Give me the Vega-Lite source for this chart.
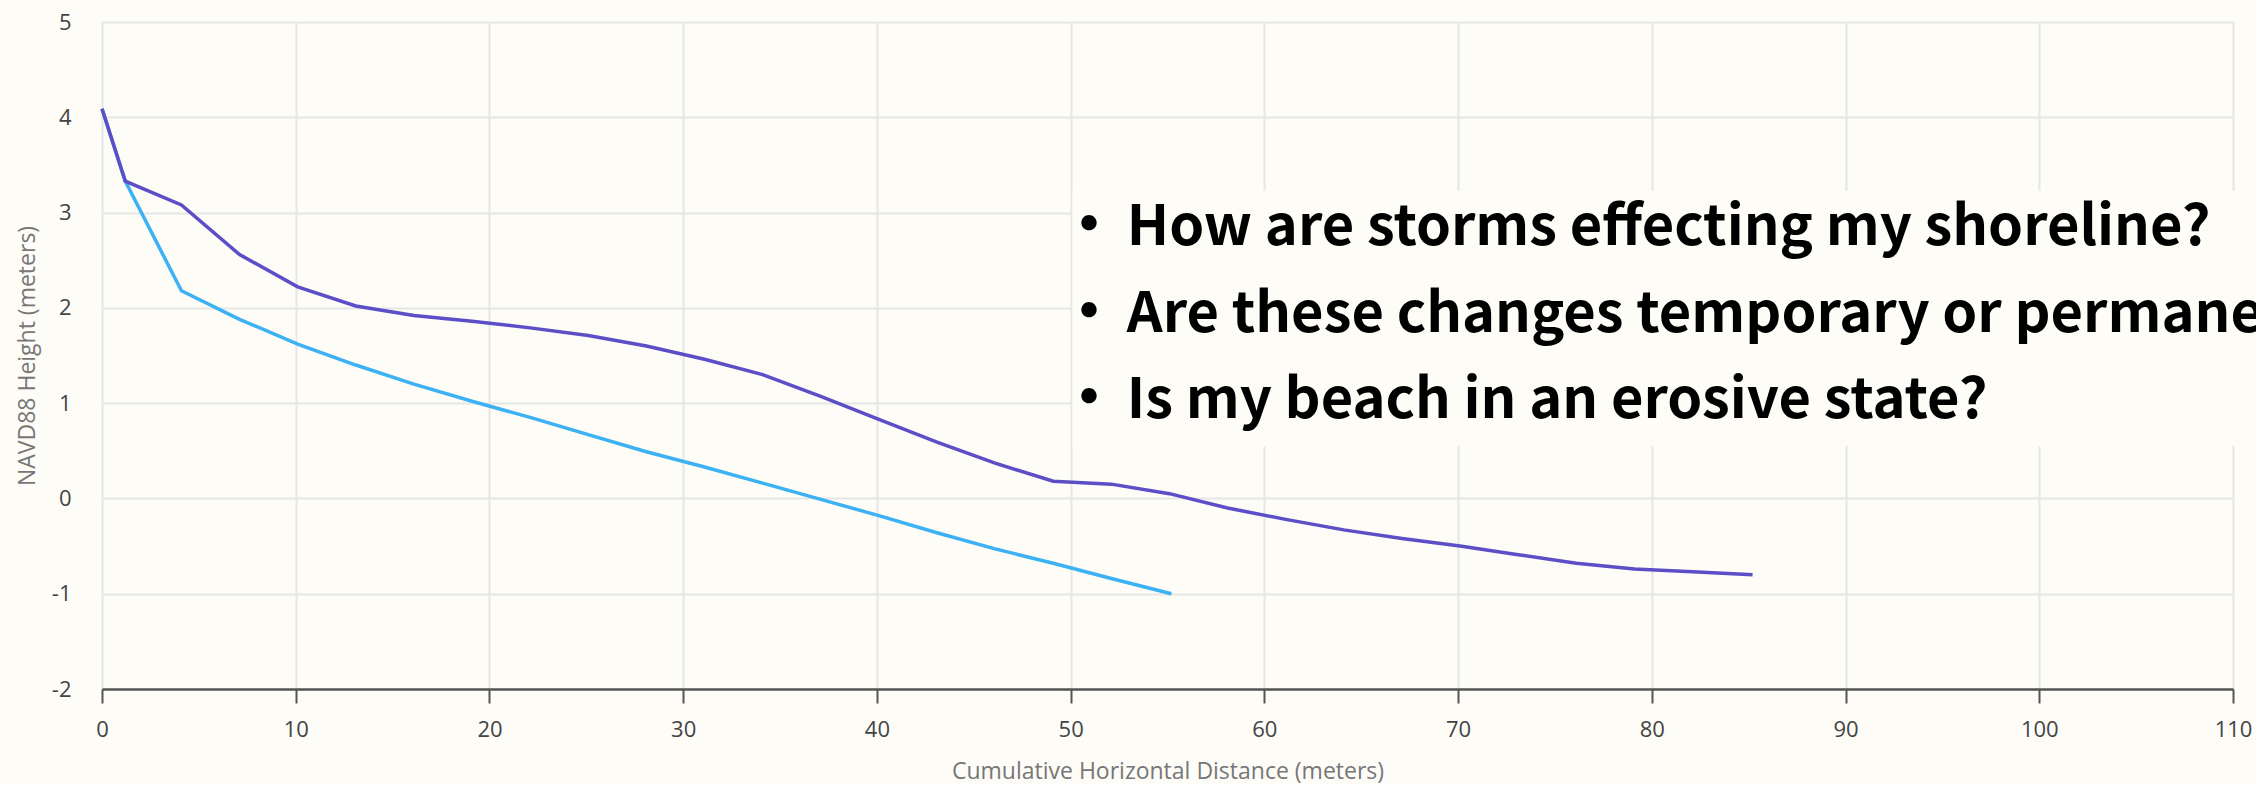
{
  "$schema": "https://vega.github.io/schema/vega-lite/v6.json",
  "width": 2131,
  "height": 667,
  "autosize": {"type": "none"},
  "padding": {"left": 102, "top": 22, "right": 23, "bottom": 96},
  "background": "#fdfcf7",
  "config": {"view": {"stroke": null}, "font": "Open Sans"},
  "datasets": {
    "profiles": [
      {"survey": "Survey B", "distance": 0, "height": 4.09},
      {"survey": "Survey B", "distance": 1.2, "height": 3.33},
      {"survey": "Survey B", "distance": 4.1, "height": 2.18},
      {"survey": "Survey B", "distance": 7.1, "height": 1.88},
      {"survey": "Survey B", "distance": 10.1, "height": 1.62},
      {"survey": "Survey B", "distance": 13.1, "height": 1.40},
      {"survey": "Survey B", "distance": 16.1, "height": 1.20},
      {"survey": "Survey B", "distance": 19.1, "height": 1.02},
      {"survey": "Survey B", "distance": 22.1, "height": 0.85},
      {"survey": "Survey B", "distance": 25.1, "height": 0.67},
      {"survey": "Survey B", "distance": 28.1, "height": 0.49},
      {"survey": "Survey B", "distance": 31.1, "height": 0.33},
      {"survey": "Survey B", "distance": 34.1, "height": 0.16},
      {"survey": "Survey B", "distance": 37.1, "height": -0.01},
      {"survey": "Survey B", "distance": 40.1, "height": -0.18},
      {"survey": "Survey B", "distance": 43.1, "height": -0.36},
      {"survey": "Survey B", "distance": 46.1, "height": -0.53},
      {"survey": "Survey B", "distance": 49.1, "height": -0.68},
      {"survey": "Survey B", "distance": 52.1, "height": -0.84},
      {"survey": "Survey B", "distance": 55.2, "height": -1.00},
      {"survey": "Survey A", "distance": 0, "height": 4.09},
      {"survey": "Survey A", "distance": 1.2, "height": 3.33},
      {"survey": "Survey A", "distance": 4.1, "height": 3.08},
      {"survey": "Survey A", "distance": 7.1, "height": 2.56},
      {"survey": "Survey A", "distance": 10.1, "height": 2.22},
      {"survey": "Survey A", "distance": 13.1, "height": 2.02},
      {"survey": "Survey A", "distance": 16.1, "height": 1.92},
      {"survey": "Survey A", "distance": 19.1, "height": 1.86},
      {"survey": "Survey A", "distance": 22.1, "height": 1.79},
      {"survey": "Survey A", "distance": 25.1, "height": 1.71},
      {"survey": "Survey A", "distance": 28.1, "height": 1.60},
      {"survey": "Survey A", "distance": 31.1, "height": 1.46},
      {"survey": "Survey A", "distance": 34.1, "height": 1.30},
      {"survey": "Survey A", "distance": 37.1, "height": 1.07},
      {"survey": "Survey A", "distance": 40.1, "height": 0.83},
      {"survey": "Survey A", "distance": 43.1, "height": 0.59},
      {"survey": "Survey A", "distance": 46.1, "height": 0.37},
      {"survey": "Survey A", "distance": 49.1, "height": 0.18},
      {"survey": "Survey A", "distance": 52.1, "height": 0.15},
      {"survey": "Survey A", "distance": 55.1, "height": 0.05},
      {"survey": "Survey A", "distance": 58.1, "height": -0.10},
      {"survey": "Survey A", "distance": 61.1, "height": -0.22},
      {"survey": "Survey A", "distance": 64.1, "height": -0.33},
      {"survey": "Survey A", "distance": 67.1, "height": -0.42},
      {"survey": "Survey A", "distance": 70.1, "height": -0.50},
      {"survey": "Survey A", "distance": 73.1, "height": -0.59},
      {"survey": "Survey A", "distance": 76.1, "height": -0.68},
      {"survey": "Survey A", "distance": 79.1, "height": -0.74},
      {"survey": "Survey A", "distance": 82.1, "height": -0.77},
      {"survey": "Survey A", "distance": 85.2, "height": -0.80}
    ],
    "box": [{"x1": 50.1, "x2": 115, "y1": 3.23, "y2": 0.55}],
    "questions": [
      {"question": "How are storms effecting my shoreline?", "bx": 50.95, "tx": 52.9, "ty": 2.84},
      {"question": "Are these changes temporary or permanent?", "bx": 50.95, "tx": 52.9, "ty": 1.93},
      {"question": "Is my beach in an erosive state?", "bx": 50.95, "tx": 52.9, "ty": 1.02}
    ]
  },
  "layer": [
    {
      "data": {"name": "profiles"},
      "mark": {"type": "line", "strokeWidth": 3.5},
      "encoding": {
        "x": {
          "field": "distance", "type": "quantitative",
          "title": "Cumulative Horizontal Distance (meters)",
          "scale": {"domain": [0, 110], "nice": false, "zero": false},
          "axis": {
            "values": [0, 10, 20, 30, 40, 50, 60, 70, 80, 90, 100, 110],
            "labelExpr": "'' + datum.value",
            "grid": true, "gridColor": "#e6e6e6", "gridWidth": 2,
            "domain": true, "domainColor": "#555555", "domainWidth": 2.5,
            "ticks": true, "tickColor": "#555555", "tickSize": 14, "tickWidth": 2,
            "labelFontSize": 22, "labelColor": "#444444", "labelPadding": 16, "labelFlush": false,
            "titleFontSize": 23, "titleColor": "#777777", "titleFontWeight": "normal", "titlePadding": 20
          }
        },
        "y": {
          "field": "height", "type": "quantitative",
          "title": "NAVD88 Height (meters)",
          "scale": {"domain": [-2, 5], "nice": false, "zero": false},
          "axis": {
            "values": [-2, -1, 0, 1, 2, 3, 4, 5],
            "labelExpr": "'' + datum.value",
            "grid": true, "gridColor": "#e6e6e6", "gridWidth": 2,
            "domain": false, "ticks": false,
            "labelFontSize": 22, "labelColor": "#444444", "labelPadding": 31,
            "titleFontSize": 23, "titleColor": "#777777", "titleFontWeight": "normal", "titlePadding": 12
          }
        },
        "color": {
          "field": "survey", "type": "nominal",
          "scale": {"domain": ["Survey A", "Survey B"], "range": ["#5b4ec6", "#3cb1f4"]},
          "legend": null
        }
      }
    },
    {
      "data": {"name": "box"},
      "mark": {"type": "rect", "fill": "#fdfcf7", "clip": false},
      "encoding": {
        "x": {"field": "x1", "type": "quantitative", "title": "Cumulative Horizontal Distance (meters)"},
        "x2": {"field": "x2"},
        "y": {"field": "y1", "type": "quantitative", "title": "NAVD88 Height (meters)"},
        "y2": {"field": "y2"}
      }
    },
    {
      "data": {"name": "questions"},
      "mark": {"type": "text", "align": "center", "baseline": "middle", "font": "Noto Sans CJK SC", "fontWeight": "bold", "fontSize": 60, "color": "#000000"},
      "encoding": {
        "x": {"field": "bx", "type": "quantitative", "title": "Cumulative Horizontal Distance (meters)"},
        "y": {"field": "ty", "type": "quantitative", "title": "NAVD88 Height (meters)"},
        "text": {"value": "•"}
      }
    },
    {
      "data": {"name": "questions"},
      "mark": {"type": "text", "align": "left", "baseline": "middle", "font": "Noto Sans CJK SC", "fontWeight": "bold", "fontSize": 56, "color": "#000000"},
      "encoding": {
        "x": {"field": "tx", "type": "quantitative", "title": "Cumulative Horizontal Distance (meters)"},
        "y": {"field": "ty", "type": "quantitative", "title": "NAVD88 Height (meters)"},
        "text": {"field": "question", "type": "nominal"}
      }
    }
  ]
}
